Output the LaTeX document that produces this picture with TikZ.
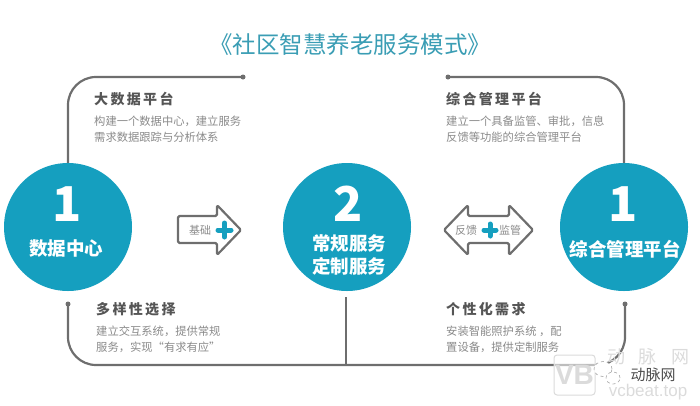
\documentclass[tikz,border=0pt]{standalone}
\usepackage{fontspec}
\setmainfont{Noto Sans CJK SC}
\setsansfont{Liberation Sans}
\usetikzlibrary{positioning}
\definecolor{tealfill}{HTML}{159FBF}
\definecolor{linegray}{HTML}{6E6E6E}
\definecolor{headgray}{HTML}{555555}
\definecolor{bodygray}{HTML}{8A8A8A}
\definecolor{titleteal}{HTML}{3A9DB4}
\begin{document}
\begin{tikzpicture}[%
  x=1pt,y=-1pt,
  circlenode/.style={%
    circle,
    minimum size=128pt,
    inner sep=0pt,
    fill=tealfill,
  },
  numnode/.style={%
    text=white,
    font=\fontsize{48}{48}\selectfont\bfseries,
  },
  namenode/.style={%
    text=white,
    align=center,
    font=\fontsize{18.5}{23}\selectfont\bfseries,
  },
  headnode/.style={%
    anchor=west,
    text=headgray,
    font=\fontsize{14}{15}\selectfont\bfseries,
    inner sep=0pt,
  },
  bodynode/.style={%
    anchor=north west,
    text=bodygray,
    align=left,
    font=\fontsize{11.3}{15.5}\selectfont,
    inner sep=0pt,
  },
  arrownode/.style={%
    text=bodygray,
    font=\fontsize{11}{12}\selectfont,
    inner sep=0pt,
  },
  plusline/.style={%
    draw=tealfill,
    line width=5pt,
    line cap=round,
  },
  routeline/.style={%
    draw=linegray,
    line width=2.2pt,
    rounded corners=28pt,
  },
  enddot/.style={%
    circle,
    fill=linegray,
    inner sep=0pt,
    minimum size=5pt,
  },
  arrowline/.style={%
    draw=linegray,
    line width=2.2pt,
    line join=round,
    rounded corners=1.5pt,
  },
  markfaint/.style={%
    text=black!14,
    inner sep=0pt,
  },
]
  \useasboundingbox (0,0) rectangle (700,405);

  % routes behind the circles
  \node [enddot] (dotA) at (243,77) {};
  \node [enddot] (dotB) at (448,77) {};
  \node [enddot] (dotC) at (68,304) {};
  \node [enddot] (dotD) at (625,304) {};
  \coordinate (midlow) at (346,297);
  \coordinate (midjoin) at (346,365);

  \node [circlenode] (left) at (68,227) {};
  \node [circlenode] (mid) at (347,227) {};
  \node [circlenode] (right) at (624,227) {};

  \draw [routeline] (dotA.center) -| (left.north);
  \draw [routeline] (dotB.center) -| (right.north);
  \draw [routeline] (dotC.center) |- (midjoin) -| (dotD.center);
  \draw [draw=linegray, line width=2.2pt] (midlow) -- (midjoin);

  \node [numnode] (oneA) at (67,204) {1};
  \node [numnode] (two) at (348,204) {2};
  \node [numnode] (oneB) at (623,204) {1};
  \node [namenode] at (66,249) {数据中心};
  \node [namenode] at (349,255) {常规服务\\定制服务};
  \node [namenode] at (625,249) {综合管理平台};

  \node at (350,45) [text=titleteal, font=\fontsize{23.5}{27}\selectfont] {《社区智慧养老服务模式》};

  \node [headnode] (headA) at (94,99) {大\,数\,据\,平\,台};
  \node [bodynode, below=10pt of headA.south west, anchor=north west] {构建一个数据中心，建立服务\\需求数据跟踪与分析体系};
  \node [headnode] (headB) at (446,99) {综\,合\,管\,理\,平\,台};
  \node [bodynode, below=10pt of headB.south west, anchor=north west] {建立一个具备监管、审批，信息\\反馈等功能的综合管理平台};
  \node [headnode] (headC) at (96,309) {多\,样\,性\,选\,择};
  \node [bodynode, below=10pt of headC.south west, anchor=north west] {建立交互系统，提供常规\\服务，实现“有求有应”};
  \node [headnode] (headD) at (446,309) {个\,性\,化\,需\,求};
  \node [bodynode, below=10pt of headD.south west, anchor=north west] {安装智能照护系统 ，配\\置设备，提供定制服务};

  % block arrows
  \draw [arrowline] (178,216) -- (217,216) -- (217,205) -- (241,230) -- (217,255) -- (217,243) -- (178,243) -- cycle;
  \node [arrownode] at (200,230) {基础};
  \draw [plusline] (218,230) -- (231,230);
  \draw [plusline] (224.5,223) -- (224.5,237);

  \draw [arrowline] (444,230) -- (468,205) -- (468,216) -- (509,216) -- (509,205) -- (533,230) -- (509,255) -- (509,243) -- (468,243) -- (468,255) -- cycle;
  \node [arrownode] at (466,230) {反馈};
  \node [arrownode] at (510,230) {监管};
  \draw [plusline] (484,230) -- (496,230);
  \draw [plusline] (490,224) -- (490,236);

  % mark in the corner
  \draw [white, opacity=.55, fill=white] (554,355) rectangle (595,395);
  \draw [black!14, rounded corners=3pt, line width=1pt] (554,355) rectangle (595,395);
  \node [markfaint] (markVB) at (574.5,375) {\fontsize{28}{28}\selectfont\sffamily\bfseries VB};
  \node [markfaint] (markCN) at (648,357) {\fontsize{18}{18}\selectfont 动\hspace{14pt}脉\hspace{14pt}网};
  \node [markfaint] (markURL) at (648,392) {\fontsize{17}{17}\selectfont\sffamily vcbeat.top};
  \draw [draw=black!35, fill=white, line width=.6pt, dashed] (603,369) circle [x radius=9pt, y radius=7.5pt];
  \draw [draw=black!35, fill=white, line width=.6pt, dashed] (613,378) circle [x radius=7pt, y radius=6pt];
  \node (markname) at (653,375) [inner sep=0pt, text=black!70, font=\fontsize{15}{15}\selectfont] {动脉网};
\end{tikzpicture}
\end{document}
